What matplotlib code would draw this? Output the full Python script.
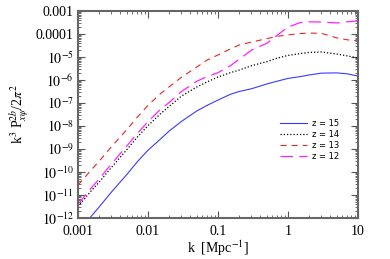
import numpy as np
import matplotlib
matplotlib.use("Agg")
import matplotlib.pyplot as plt
from matplotlib.ticker import LogLocator, FixedLocator, NullFormatter

plt.rcParams['font.family'] = ['Liberation Serif', 'DejaVu Serif']
plt.rcParams['mathtext.fontset'] = 'stix'

# k grid [Mpc^-1]
k = [0.001, 0.0015, 0.002, 0.003, 0.005, 0.007, 0.01, 0.015, 0.02, 0.03, 0.05, 0.07,
     0.1, 0.15, 0.2, 0.3, 0.5, 0.7, 1, 1.5, 2, 3, 5, 7, 10]
k_z15 = k[1:]

# log10 of k^3 P / 2pi^2
log_p_z15 = [-11.97, -11.52, -10.87, -10.1, -9.56, -9.05, -8.57, -8.22, -7.8, -7.34, -7.1,
             -6.87, -6.62, -6.5, -6.38, -6.17, -6.05, -5.93, -5.85, -5.78, -5.70, -5.69, -5.73, -5.83]
log_p_z14 = [-11.5, -10.86, -10.44, -9.8, -9.02, -8.49, -7.98, -7.47, -7.15, -6.7, -6.3, -6.08,
             -5.87, -5.68, -5.57, -5.38, -5.2, -5.05, -4.93, -4.85, -4.8, -4.78, -4.87, -4.95, -5.04]
log_p_z13 = [-10.57, -9.95, -9.53, -8.9, -8.15, -7.62, -7.1, -6.6, -6.3, -5.88, -5.43, -5.13,
             -4.91, -4.65, -4.48, -4.35, -4.2, -4.1, -4.04, -3.98, -3.96, -3.97, -4.17, -4.25, -4.30]
log_p_z12 = [-11.4, -10.74, -10.3, -9.65, -8.86, -8.33, -7.81, -7.28, -6.98, -6.5, -6.05, -5.85,
             -5.68, -5.38, -5.1, -4.7, -4.4, -4.05, -3.7, -3.5, -3.47, -3.48, -3.52, -3.47, -3.43]

labels = ["z = 15", "z = 14", "z = 13", "z = 12"]
xticklabels = ["0.001", "0.01", "0.1", "1", "10"]
yticklabels = ["$10^{-12}$", "$10^{-11}$", "$10^{-10}$", "$10^{-9}$", "$10^{-8}$", "$10^{-7}$",
               "$10^{-6}$", "$10^{-5}$", "0.0001", "0.001"]

fig = plt.figure(figsize=(3.9, 2.59), dpi=100)
ax = fig.add_axes([0.2, 0.158, 0.718, 0.7995])

p = lambda a: np.power(10.0, np.array(a))
ax.plot(k_z15, p(log_p_z15), color='#3a3aff', lw=0.8, label=labels[0])
ax.plot(k, p(log_p_z14), color='black', lw=0.9, ls=(0, (1, 1.6)), label=labels[1])
ax.plot(k, p(log_p_z13), color='#e02828', lw=0.8, ls=(0, (5.5, 4.5)), label=labels[2])
ax.plot(k, p(log_p_z12), color='#ff22ff', lw=0.9, ls=(0, (10, 5)), label=labels[3])

ax.set_xscale('log')
ax.set_yscale('log')
ax.set_xlim(0.001, 10)
ax.set_ylim(1e-12, 1e-3)

ax.xaxis.set_major_locator(FixedLocator([0.001, 0.01, 0.1, 1, 10]))
ax.set_xticklabels(xticklabels)
ax.xaxis.set_minor_locator(LogLocator(base=10, subs=np.arange(2, 10), numticks=20))
ax.xaxis.set_minor_formatter(NullFormatter())
ax.yaxis.set_major_locator(FixedLocator([10.0**e for e in range(-12, -2)]))
ax.set_yticklabels(yticklabels)
ax.yaxis.set_minor_locator(LogLocator(base=10, subs=np.arange(2, 10), numticks=20))
ax.yaxis.set_minor_formatter(NullFormatter())

ax.tick_params(which='both', direction='in', top=True, right=True, color='#555555')
ax.tick_params(which='major', length=5, width=0.8, labelsize=10, pad=3)
ax.tick_params(axis='x', which='major', pad=5)
ax.tick_params(which='minor', length=2.5, width=0.6)
for s in ax.spines.values():
    s.set_linewidth(1.5)
    s.set_color('#666666')

ax.set_xlabel("k  [Mpc$^{-1}$]", fontsize=10, labelpad=0)
ax.set_ylabel("k$^3$ P$^{2b}_{x\\psi}$/2$\\pi^2$", fontsize=10, labelpad=3)

leg = ax.legend(loc='center left', bbox_to_anchor=(0.721, 0.377), frameon=False,
                prop={'family': 'DejaVu Sans', 'size': 6},
                handlelength=3.3, handletextpad=0.6, labelspacing=0.25,
                borderpad=0, borderaxespad=0)

fig.savefig("out.png", dpi=100)
